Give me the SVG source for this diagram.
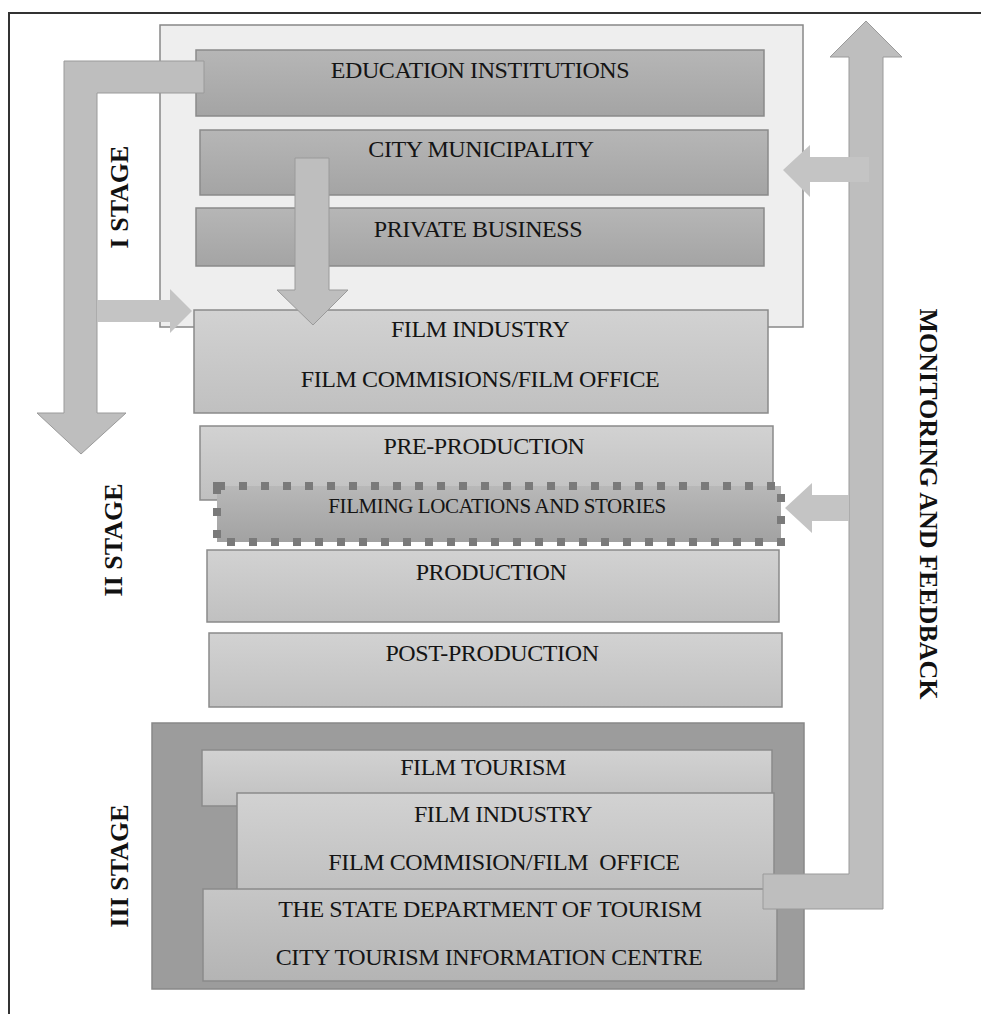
<svg xmlns="http://www.w3.org/2000/svg" width="981" height="1014" viewBox="0 0 981 1014">
<defs>
<linearGradient id="gDark" x1="0" y1="0" x2="0" y2="1"><stop offset="0" stop-color="#b6b6b6"/><stop offset="1" stop-color="#a4a4a4"/></linearGradient>
<linearGradient id="gLight" x1="0" y1="0" x2="0" y2="1"><stop offset="0" stop-color="#d2d2d2"/><stop offset="1" stop-color="#c0c0c0"/></linearGradient>
<linearGradient id="gMid" x1="0" y1="0" x2="0" y2="1"><stop offset="0" stop-color="#c6c6c6"/><stop offset="1" stop-color="#b4b4b4"/></linearGradient>
<linearGradient id="gFilm" x1="0" y1="0" x2="0" y2="1"><stop offset="0" stop-color="#b8b8b8"/><stop offset="1" stop-color="#a2a2a2"/></linearGradient>
<style>
.box{stroke:#8a8a8a;stroke-width:1.5}
.dark{fill:url(#gDark)}
.light{fill:url(#gLight)}
.mid{fill:url(#gMid)}
.t{font-family:"Liberation Serif","Times New Roman",serif;font-size:24px;fill:#141414;text-anchor:middle;letter-spacing:-0.4px}
.st{font-family:"Liberation Serif","Times New Roman",serif;font-size:26px;font-weight:bold;fill:#111;text-anchor:middle}
.arr{fill:#bebebe;stroke:#9a9a9a;stroke-width:1}
.arr2{fill:#c4c4c4;stroke:none}
</style>
</defs>
<rect x="0" y="0" width="981" height="1014" fill="#fff"/>
<path d="M9,1014 L9,13 L981,13" fill="none" stroke="#333" stroke-width="2"/>

<g id="stage1">
<rect x="160" y="25" width="643" height="302" fill="#eeeeee" stroke="#888" stroke-width="1.5"/>
<text class="st" transform="translate(128,197) rotate(-90)">I STAGE</text>
</g>
<g id="education">
<rect class="box dark" x="196" y="50" width="568" height="66"/>
<text class="t" x="480" y="78">EDUCATION INSTITUTIONS</text>
</g>
<g id="municipality">
<rect class="box dark" x="200" y="130" width="568" height="65"/>
<text class="t" x="481" y="157">CITY MUNICIPALITY</text>
</g>
<g id="private">
<rect class="box dark" x="196" y="208" width="568" height="58"/>
<text class="t" x="478" y="237">PRIVATE BUSINESS</text>
</g>
<g id="film-industry-1">
<rect class="box light" x="194" y="310" width="574" height="103"/>
<text class="t" x="480" y="337">FILM INDUSTRY</text>
<text class="t" x="480" y="387">FILM COMMISIONS/FILM OFFICE</text>
</g>

<g id="stage2">
<text class="st" transform="translate(122,540) rotate(-90)">II STAGE</text>
</g>
<g id="pre-production">
<rect class="box light" x="200" y="426" width="573" height="74"/>
<text class="t" x="484" y="454">PRE-PRODUCTION</text>
</g>
<g id="production">
<rect class="box light" x="207" y="550" width="572" height="72"/>
<text class="t" x="491" y="580">PRODUCTION</text>
</g>
<g id="post-production">
<rect class="box light" x="209" y="633" width="573" height="74"/>
<text class="t" x="492" y="661">POST-PRODUCTION</text>
</g>
<g id="filming">
<rect x="217" y="486" width="564" height="56" fill="url(#gFilm)" stroke="#7a7a7a" stroke-width="8" stroke-dasharray="8 14"/>
<text class="t" x="497" y="513" style="font-size:21px">FILMING LOCATIONS AND STORIES</text>
</g>

<g id="stage3">
<rect x="152" y="723" width="652" height="266" fill="#9c9c9c" stroke="#888" stroke-width="1.5"/>
<text class="st" transform="translate(128,866) rotate(-90)">III STAGE</text>
</g>
<g id="film-tourism">
<rect class="box light" x="202" y="750" width="570" height="56"/>
<text class="t" x="483" y="775">FILM TOURISM</text>
</g>
<g id="film-industry-3">
<rect class="box light" x="237" y="793" width="537" height="97"/>
<text class="t" x="503" y="822">FILM INDUSTRY</text>
<text class="t" x="504" y="870" xml:space="preserve">FILM COMMISION/FILM  OFFICE</text>
</g>
<g id="tourism-dept">
<rect class="box mid" x="203" y="889" width="574" height="92"/>
<text class="t" x="490" y="917">THE STATE DEPARTMENT OF TOURISM</text>
<text class="t" x="489" y="965">CITY TOURISM INFORMATION CENTRE</text>
</g>

<g id="monitoring">
<text class="st" transform="translate(920,504) rotate(90)">MONITORING AND FEEDBACK</text>
</g>

<g id="connectors">
<path class="arr" d="M204,61 L64,61 L64,413 L37,413 L81,454 L126,413 L97,413 L97,93 L204,93 Z"/>
<path class="arr2" d="M97,300 L170,300 L170,289 L192,311 L170,333 L170,322 L97,322 Z"/>
<path class="arr" d="M295,158 L329,158 L329,290 L348,290 L313,325 L277,290 L295,290 Z"/>
<path class="arr" d="M763,874 L849,874 L849,57 L830,57 L866,21 L902,57 L883,57 L883,909 L763,909 Z"/>
<path class="arr2" d="M869,157 L810,157 L810,145 L783,170 L810,197 L810,182 L869,182 Z"/>
<path class="arr2" d="M849,495 L812,495 L812,483 L785,508 L812,533 L812,521 L849,521 Z"/>
</g>
</svg>
